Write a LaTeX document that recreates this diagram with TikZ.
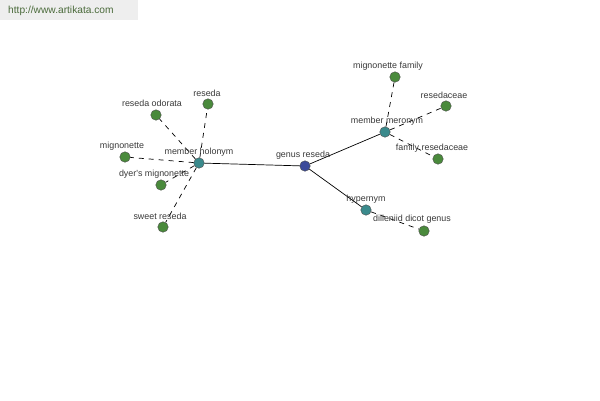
\documentclass[tikz,border=0pt]{standalone}
\usepackage{fontspec}
\newfontfamily\labfont{Liberation Sans}
\definecolor{leafgreen}{HTML}{4A8A3C}
\definecolor{hubteal}{HTML}{3A8A8C}
\definecolor{rootblue}{HTML}{3C4A9A}
\definecolor{labgray}{HTML}{3A3A3A}
\definecolor{hdrgray}{HTML}{EEEEEE}
\definecolor{hdrtext}{HTML}{4A6A3A}
\begin{document}
\begin{tikzpicture}[x=1pt,y=-1pt,
  dot/.style={circle,draw=black!70,line width=0.4pt,minimum size=10.5pt,inner sep=0pt},
  leaf/.style={dot,fill=leafgreen},
  hub/.style={dot,fill=hubteal},
  root/.style={dot,fill=rootblue},
  lab/.style={font=\labfont\fontsize{8.9}{9}\selectfont,text=labgray,inner sep=0pt},
  solidedge/.style={draw=black,line width=0.7pt},
  dashedge/.style={draw=black,line width=0.7pt,dash pattern=on 5pt off 5pt}]
\useasboundingbox (0,0) rectangle (600,400);
\fill[white] (0,0) rectangle (600,400);
\fill[hdrgray] (0,0) rectangle (138,20);
\node[font=\labfont\fontsize{10.2}{11}\selectfont,text=hdrtext,anchor=west,inner sep=0pt] (hdr) at (8,10.5) {http://www.artikata.com};
% nodes
\node[root] (gr) at (305,166) {};
\node[hub] (mh) at (199,163) {};
\node[hub] (mm) at (385,132) {};
\node[hub] (hy) at (366,210) {};
\node[leaf] (l1) at (208,104) {};
\node[leaf] (l2) at (156,115) {};
\node[leaf] (l3) at (125,157) {};
\node[leaf] (l4) at (161,185) {};
\node[leaf] (l5) at (163,227) {};
\node[leaf] (l6) at (395,77) {};
\node[leaf] (l7) at (446,106) {};
\node[leaf] (l8) at (438,159) {};
\node[leaf] (l9) at (424,231) {};
% edges
\path[solidedge] (gr) -- (mh);
\path[solidedge] (gr) -- (mm);
\path[solidedge] (gr) -- (hy);
\path[dashedge] (mh) -- (l1);
\path[dashedge] (mh) -- (l2);
\path[dashedge] (mh) -- (l3);
\path[dashedge] (mh) -- (l4);
\path[dashedge] (mh) -- (l5);
\path[dashedge] (mm) -- (l6);
\path[dashedge] (mm) -- (l7);
\path[dashedge] (mm) -- (l8);
\path[dashedge] (hy) -- (l9);
% labels
\node[lab] (tgr) at (303,155) {genus reseda};
\node[lab] (tmh) at (199,152) {member holonym};
\node[lab] (tmm) at (387,121) {member meronym};
\node[lab] (thy) at (366,199) {hypernym};
\node[lab] (t1) at (207,93) {reseda};
\node[lab] (t2) at (152,103.5) {reseda odorata};
\node[lab] (t3) at (122,146) {mignonette};
\node[lab] (t4) at (154,174) {dyer's mignonette};
\node[lab] (t5) at (160,216) {sweet reseda};
\node[lab] (t6) at (388,66) {mignonette family};
\node[lab] (t7) at (444,95) {resedaceae};
\node[lab] (t8) at (432,148) {family resedaceae};
\node[lab] (t9) at (412,219) {dilleniid dicot genus};
\end{tikzpicture}
\end{document}
